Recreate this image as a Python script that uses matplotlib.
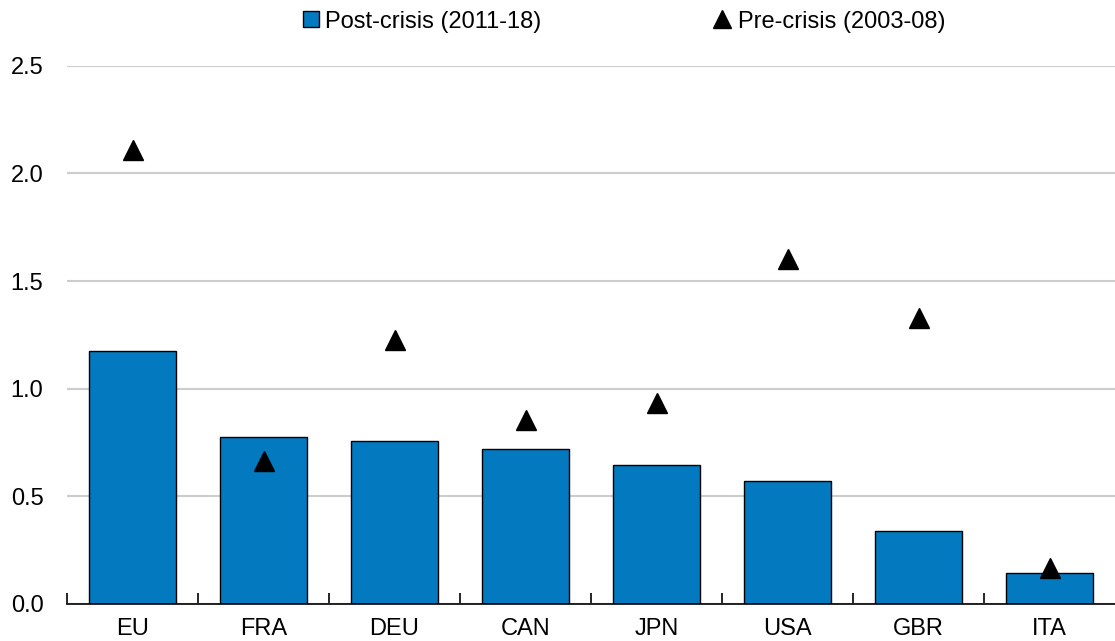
import matplotlib.pyplot as plt
from matplotlib.lines import Line2D
import numpy as np

countries = ["EU", "FRA", "DEU", "CAN", "JPN", "USA", "GBR", "ITA"]
post_crisis = [1.175, 0.775, 0.757, 0.720, 0.647, 0.572, 0.340, 0.143]
pre_crisis = [2.108, 0.666, 1.227, 0.855, 0.934, 1.600, 1.330, 0.167]
yticks = [0.0, 0.5, 1.0, 1.5, 2.0, 2.5]

plt.rcParams['font.family'] = ['Liberation Sans', 'DejaVu Sans']

blue = "#0379BF"
W, H = 1115, 641

fig = plt.figure(figsize=(W / 100, H / 100), dpi=100)
ax = fig.add_axes([67 / W, 1 - 604 / H, 1 - 67 / W, (604 - 65.7) / H])

x = np.arange(len(countries))
ax.bar(x, post_crisis, width=0.67, color=blue, edgecolor="black", linewidth=1, zorder=2)
ax.plot(x, pre_crisis, linestyle="none", marker="^", color="black", markersize=14, zorder=3)

ax.set_xlim(-0.5, len(countries) - 0.5)
ax.set_ylim(0, 2.5)
ax.set_yticks(yticks)
ax.set_yticklabels([f"{v:.1f}" for v in yticks])
ax.set_xticks(x)
ax.set_xticklabels(countries)
ax.set_xticks(np.arange(len(countries)) - 0.5, minor=True)
ax.tick_params(axis="x", which="major", length=0, pad=10, labelsize=17)
ax.tick_params(axis="x", which="minor", direction="in", length=8, width=1.2)
ax.tick_params(axis="y", length=0, pad=17, labelsize=17)

ax.grid(axis="y", color="#CCCCCC", linewidth=1.5, zorder=0)
ax.set_axisbelow(True)
for s in ["top", "right", "left"]:
    ax.spines[s].set_visible(False)
ax.spines["bottom"].set_linewidth(1.2)

post_handle = Line2D([], [], linestyle="none", marker="s", markersize=11,
                     markerfacecolor=blue, markeredgecolor="black", markeredgewidth=1)
pre_handle = Line2D([], [], linestyle="none", marker="^", markersize=13, color="black")

leg1 = fig.legend([post_handle], ["Post-crisis (2011-18)"], loc="upper left",
                  bbox_to_anchor=(292 / W, 0.998), frameon=False, fontsize=17,
                  handletextpad=0.2, handlelength=0.8, borderaxespad=0)
leg2 = fig.legend([pre_handle], ["Pre-crisis (2003-08)"], loc="upper left",
                  bbox_to_anchor=(703 / W, 0.998), frameon=False, fontsize=17,
                  handletextpad=0.3, handlelength=0.8, borderaxespad=0)

fig.savefig("out.png", dpi=100)
